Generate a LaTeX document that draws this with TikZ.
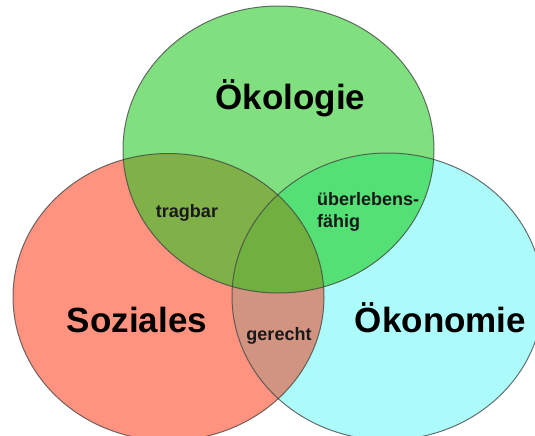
\documentclass[tikz,border=0pt]{standalone}
\usepackage{fontspec}
\setmainfont{Liberation Sans}
\definecolor{cgreen}{HTML}{80E080}
\definecolor{cred}{HTML}{FF9380}
\definecolor{ccyan}{HTML}{ACFAFA}
\definecolor{ctrag}{HTML}{80B048}
\definecolor{cueber}{HTML}{55E075}
\definecolor{cgerecht}{HTML}{D09480}
\definecolor{ccenter}{HTML}{70B040}
\begin{document}
\begin{tikzpicture}[x=1pt,y=1pt,
  big/.style={font=\fontsize{35}{40}\selectfont\bfseries, anchor=base, inner sep=0},
  small/.style={font=\fontsize{18}{21}\selectfont\bfseries, anchor=base, inner sep=0, text=black!90},
  rim/.style={draw=black!75, draw opacity=0.75, line width=1pt}]
\useasboundingbox (0,0) rectangle (535,-436);
\def\rx{155.5}\def\ry{143.5}
\coordinate (G) at (278.5,-149.5);
\coordinate (R) at (168.5,-297);
\coordinate (C) at (387.5,-296.5);
% base fills
\fill[cred] (R) ellipse [x radius=\rx, y radius=\ry];
\fill[ccyan] (C) ellipse [x radius=\rx, y radius=\ry];
\fill[cgreen] (G) ellipse [x radius=\rx, y radius=\ry];
% pairwise overlaps
\begin{scope}
  \clip (R) ellipse [x radius=\rx, y radius=\ry];
  \fill[cgerecht] (C) ellipse [x radius=\rx, y radius=\ry];
  \fill[ctrag] (G) ellipse [x radius=\rx, y radius=\ry];
\end{scope}
\begin{scope}
  \clip (C) ellipse [x radius=\rx, y radius=\ry];
  \fill[cueber] (G) ellipse [x radius=\rx, y radius=\ry];
\end{scope}
\begin{scope}
  \clip (R) ellipse [x radius=\rx, y radius=\ry];
  \clip (C) ellipse [x radius=\rx, y radius=\ry];
  \fill[ccenter] (G) ellipse [x radius=\rx, y radius=\ry];
\end{scope}
% outlines
\draw[rim] (R) ellipse [x radius=\rx, y radius=\ry];
\draw[rim] (C) ellipse [x radius=\rx, y radius=\ry];
\draw[rim] (G) ellipse [x radius=\rx, y radius=\ry];
% labels
\node[big] (oek) at (290.5,-109) {Ökologie};
\node[big] (soz) at (137,-332) {Soziales};
\node[big] (oekon) at (440.5,-332) {Ökonomie};
\node[small] (trag) at (187,-217) {tragbar};
\node[small, anchor=base west] (ueber) at (317,-205) {überlebens-};
\node[small, anchor=base west] (faehig) at (317,-227) {fähig};
\node[small] (ger) at (279,-340) {gerecht};
\end{tikzpicture}
\end{document}
